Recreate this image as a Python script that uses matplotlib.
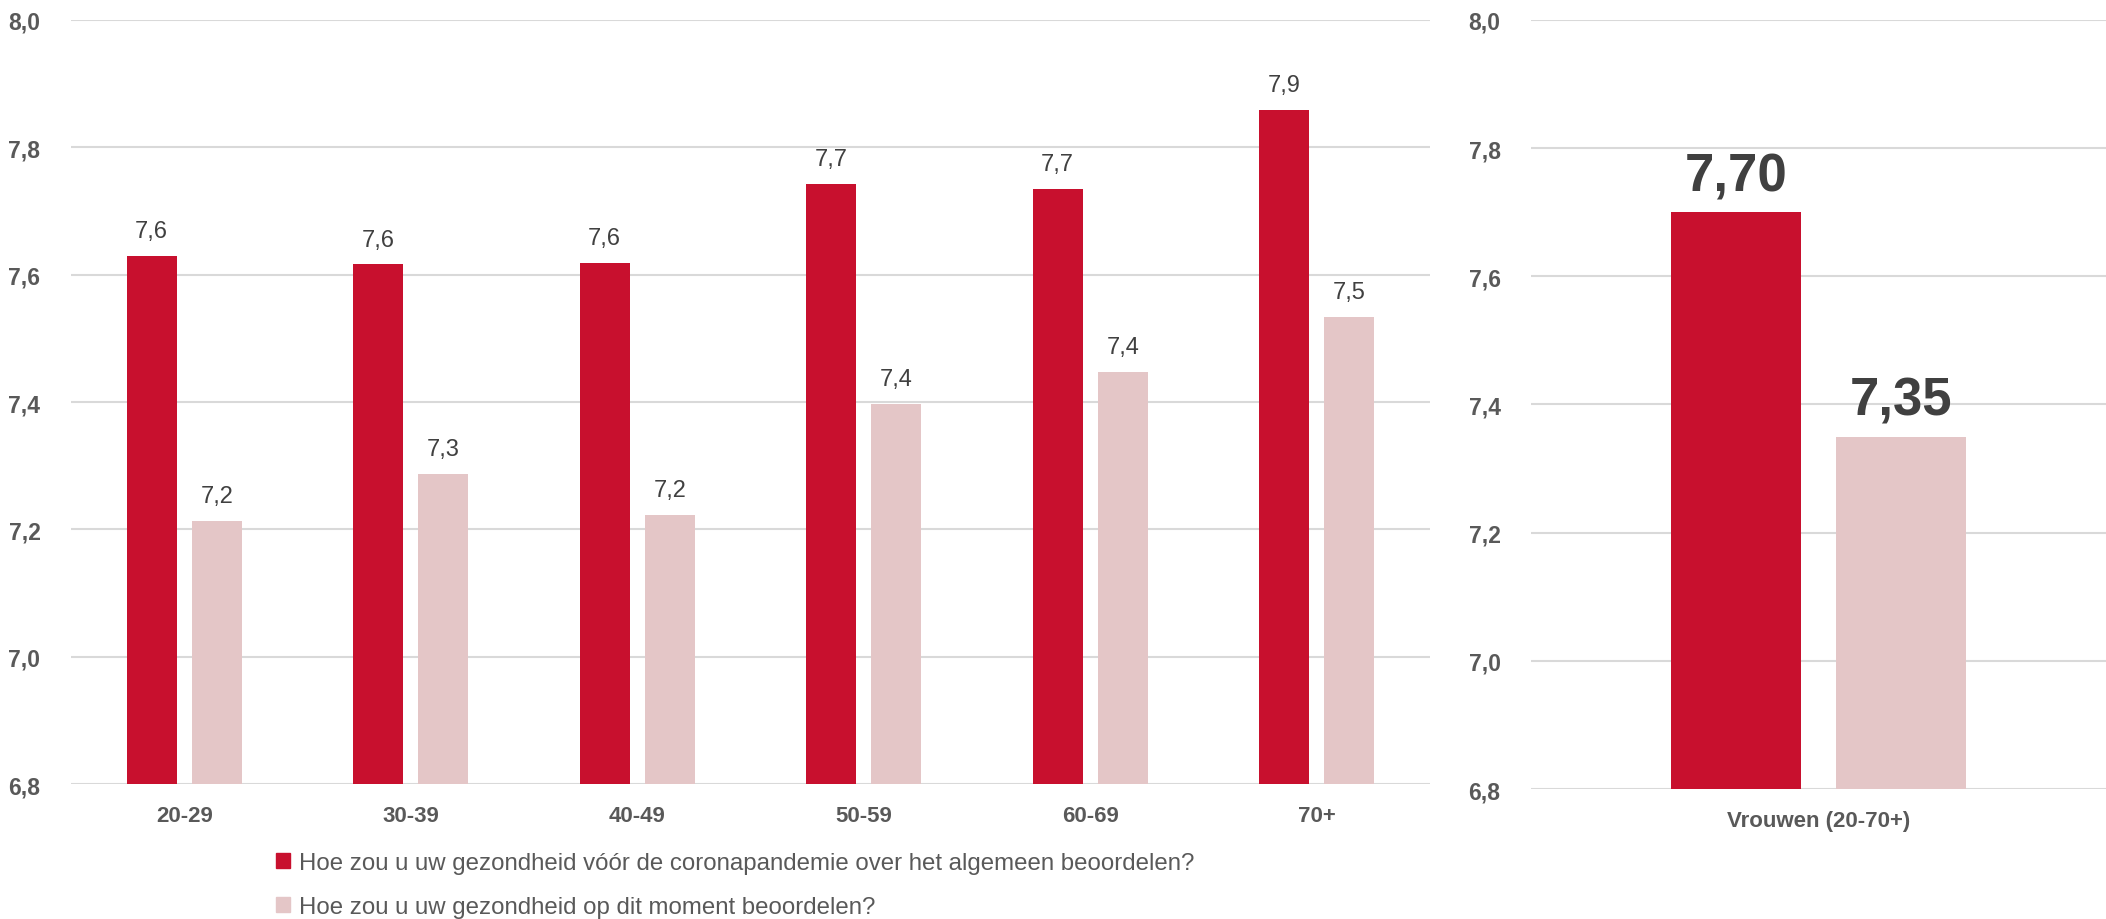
import numpy as np
import matplotlib
matplotlib.use("Agg")
import matplotlib.pyplot as plt
from matplotlib.patches import Patch

plt.rcParams['font.family'] = ['Liberation Sans', 'DejaVu Sans']

# scores per age group
age_groups = ['20-29', '30-39', '40-49', '50-59', '60-69', '70+']
before_corona = [7.629, 7.616, 7.618, 7.743, 7.734, 7.859]
current = [7.213, 7.287, 7.222, 7.397, 7.447, 7.534]

# overall score for women
total_label = ['Vrouwen (20-70+)']
total_before = [7.70]
total_current = [7.35]

legend_labels = [
    'Hoe zou u uw gezondheid vóór de coronapandemie over het algemeen beoordelen?',
    'Hoe zou u uw gezondheid op dit moment beoordelen?',
]

RED = '#C8102E'
PINK = '#E4C6C7'
GRID = '#D9D9D9'
TICK = '#595959'
LABEL = '#404040'

yticks = [6.8, 7.0, 7.2, 7.4, 7.6, 7.8, 8.0]


def fmt(v, digits):
    return f'{v:.{digits}f}'.replace('.', ',')


def style_axis(ax):
    ax.set_ylim(6.8, 8.0)
    ax.set_yticks(yticks)
    ax.set_yticklabels([fmt(t, 1) for t in yticks], fontsize=16.5,
                       fontweight='bold', color=TICK)
    ax.yaxis.grid(True, color=GRID, linewidth=1.5)
    ax.set_axisbelow(True)
    for s in ax.spines.values():
        s.set_visible(False)
    ax.tick_params(axis='both', length=0)
    ax.tick_params(axis='y', pad=22)
    ax.tick_params(axis='x', pad=15)


fig = plt.figure(figsize=(21.06, 9.2), dpi=100)

# left panel: age groups
ax1 = fig.add_axes([0.0337, 0.1467, 0.6453, 0.8305])
x = np.arange(len(age_groups))
w = 0.22
off = 0.1435
b1 = ax1.bar(x - off, before_corona, w, color=RED)
b2 = ax1.bar(x + off, current, w, color=PINK)
ax1.set_xlim(-0.5, len(age_groups) - 0.5)
style_axis(ax1)
ax1.set_xticks(x)
ax1.set_xticklabels(age_groups, fontsize=16, fontweight='bold', color=TICK)
for bars, vals in [(b1, before_corona), (b2, current)]:
    for r, v in zip(bars, vals):
        ax1.annotate(fmt(v, 1), (r.get_x() + r.get_width() / 2, v),
                     xytext=(0, 10), textcoords='offset points',
                     ha='center', va='bottom', fontsize=17, color=LABEL)

# right panel: total for women
ax2 = fig.add_axes([0.727, 0.1413, 0.273, 0.8359])
w2 = 0.226
off2 = 0.144
r1 = ax2.bar([-off2], total_before, w2, color=RED)
r2 = ax2.bar([off2], total_current, w2, color=PINK)
ax2.set_xlim(-0.5, 0.5)
style_axis(ax2)
ax2.set_xticks([0])
ax2.set_xticklabels(total_label, fontsize=16, fontweight='bold', color=TICK)
for bars, vals in [(r1, total_before), (r2, total_current)]:
    for r, v in zip(bars, vals):
        ax2.annotate(fmt(v, 2), (r.get_x() + r.get_width() / 2, v),
                     xytext=(0, 8), textcoords='offset points',
                     ha='center', va='bottom', fontsize=38,
                     fontweight='bold', color=LABEL)

handles = [Patch(color=RED), Patch(color=PINK)]
fig.legend(handles, legend_labels, loc='upper left',
           bbox_to_anchor=(0.131, 0.073), frameon=False,
           fontsize=17.3, labelcolor=TICK, handlelength=0.6,
           handleheight=0.6, handletextpad=0.35, labelspacing=0.93,
           borderpad=0, borderaxespad=0)

fig.savefig('out.png', dpi=100)
